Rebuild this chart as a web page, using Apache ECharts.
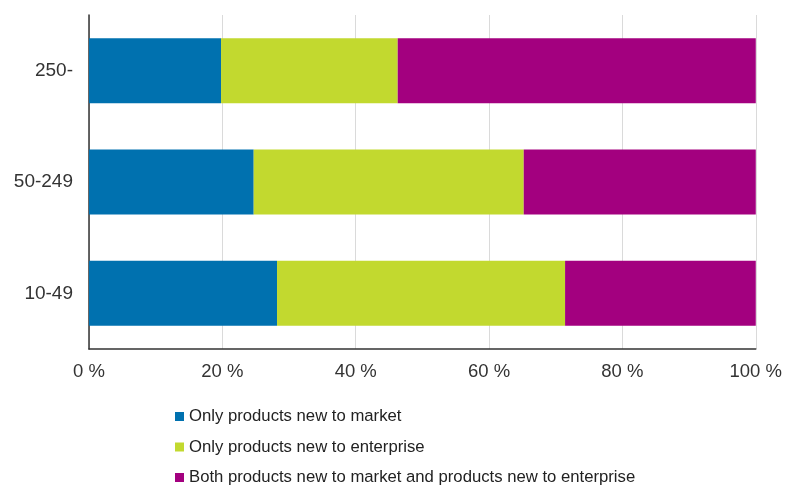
<!DOCTYPE html>
<html>
<head>
<meta charset="utf-8">
<script src="https://cdn.jsdelivr.net/npm/echarts@6/dist/echarts.min.js"></script>
<style>
html,body{margin:0;padding:0;background:#fff;}
#chart{width:785px;height:485px;}
</style>
</head>
<body>
<div id="chart"></div>
<script>
var categories = ['10-49', '50-249', '250-'];
var seriesNames = [
  'Only products new to market',
  'Only products new to enterprise',
  'Both products new to market and products new to enterprise'
];
var onlyMarket = [28.2, 24.7, 19.8];
var onlyEnterprise = [43.2, 40.5, 26.5];
var both = [28.6, 34.8, 53.7];
var xTicks = [0, 20, 40, 60, 80, 100];
var colors = ['#0071AF', '#C2D92F', '#A3007F'];

var chart = echarts.init(document.getElementById('chart'), null, {renderer: 'canvas'});
var font = 'Arial, "Liberation Sans", sans-serif';
var values = [onlyMarket, onlyEnterprise, both];
chart.setOption({
  animation: false,
  textStyle: {fontFamily: font},
  grid: {left: 89, right: 28, top: 15, bottom: 136, containLabel: false},
  xAxis: {
    type: 'value', min: xTicks[0], max: xTicks[xTicks.length - 1], interval: 20,
    axisLine: {show: true, lineStyle: {color: '#333', width: 1.5}},
    axisTick: {show: false},
    splitLine: {show: true, lineStyle: {color: '#dadada', width: 1}},
    axisLabel: {formatter: '{value} %', color: '#333', fontSize: 18.5, fontFamily: font, margin: 13}
  },
  yAxis: {
    type: 'category', data: categories,
    axisLine: {show: true, lineStyle: {color: '#333', width: 1.5}},
    axisTick: {show: false},
    axisLabel: {color: '#333', fontSize: 19, fontFamily: font, margin: 16}
  },
  legend: {
    orient: 'vertical', left: 175, top: 408, height: 100, padding: 0,
    itemWidth: 9, itemHeight: 9, itemGap: 13.5,
    icon: 'rect',
    textStyle: {color: '#222', fontSize: 16.7, fontFamily: font},
    data: seriesNames
  },
  series: seriesNames.map(function (n, i) {
    return {
      name: n, type: 'bar', stack: 'total', barWidth: 65,
      itemStyle: {color: colors[i]},
      data: values[i]
    };
  })
});
</script>
</body>
</html>
